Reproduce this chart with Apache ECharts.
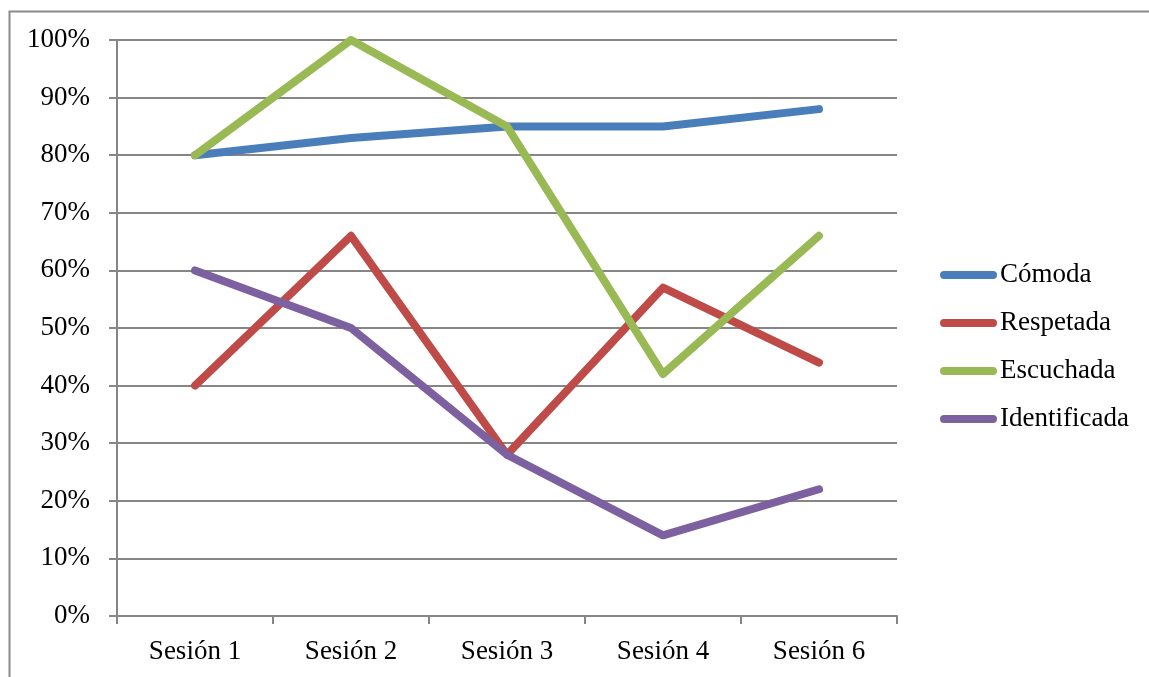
<!DOCTYPE html>
<html><head><meta charset="utf-8">
<script src="https://cdn.jsdelivr.net/npm/echarts@6/dist/echarts.min.js"></script>
<style>html,body{margin:0;padding:0;background:#fff}#c{width:1149px;height:677px}</style>
</head><body><div id="c"></div>
<script>
const categories = ['Sesión 1','Sesión 2','Sesión 3','Sesión 4','Sesión 6'];
const seriesNames = ['Cómoda','Respetada','Escuchada','Identificada'];
const comoda = [80, 83, 85, 85, 88];
const respetada = [40, 66, 28, 57, 44];
const escuchada = [80, 100, 85, 42, 66];
const identificada = [60, 50, 28, 14, 22];
const colors = ['#4A7EBB','#BE4B48','#98B954','#7D60A0'];
const values = [comoda, respetada, escuchada, identificada];
const FONT = 'Liberation Serif';
const chart = echarts.init(document.getElementById('c'));
chart.setOption({
  animation: false,
  color: colors,
  grid: {left: 117, right: 252, top: 40, bottom: 61, containLabel: false},
  graphic: [{type:'rect', left: 7, top: 9, shape:{x:0,y:0,width:1300,height:800}, style:{fill:'none', stroke:'#8a8a8a', lineWidth:2}, silent:true, z:-10}],
  legend: {
    orient: 'vertical', left: 935, top: 255,
    itemWidth: 57, itemHeight: 8, itemGap: 18,
    icon: 'path://M4,0 L53,0 A4,4 0 0 1 53,8 L4,8 A4,4 0 0 1 4,0 Z',
    textStyle: {fontFamily: FONT, fontSize: 27, color: '#000', lineHeight: 30, padding: [0,0,0,-2]},
    data: seriesNames
  },
  xAxis: {
    type: 'category', data: categories, boundaryGap: true,
    axisLine: {lineStyle: {color: '#868686', width: 2}},
    axisTick: {show: true, length: 8, lineStyle: {color: '#868686', width: 2}},
    axisLabel: {fontFamily: FONT, fontSize: 27, color: '#000', margin: 22},
    splitLine: {show: false}
  },
  yAxis: {
    type: 'value', min: 0, max: 100, interval: 10,
    axisLine: {show: true, lineStyle: {color: '#868686', width: 2}},
    axisTick: {show: true, length: 8, lineStyle: {color: '#868686', width: 2}},
    axisLabel: {fontFamily: FONT, fontSize: 27, color: '#000', margin: 27, padding: [4,0,0,0], formatter: '{value}%'},
    splitLine: {show: true, lineStyle: {color: '#868686', width: 2}}
  },
  series: seriesNames.map((n, i) => ({
    name: n, type: 'line', data: values[i], symbol: 'none',
    lineStyle: {width: 8, color: colors[i], cap: 'round', join: 'round'},
    itemStyle: {color: colors[i]}
  }))
});
</script></body></html>
